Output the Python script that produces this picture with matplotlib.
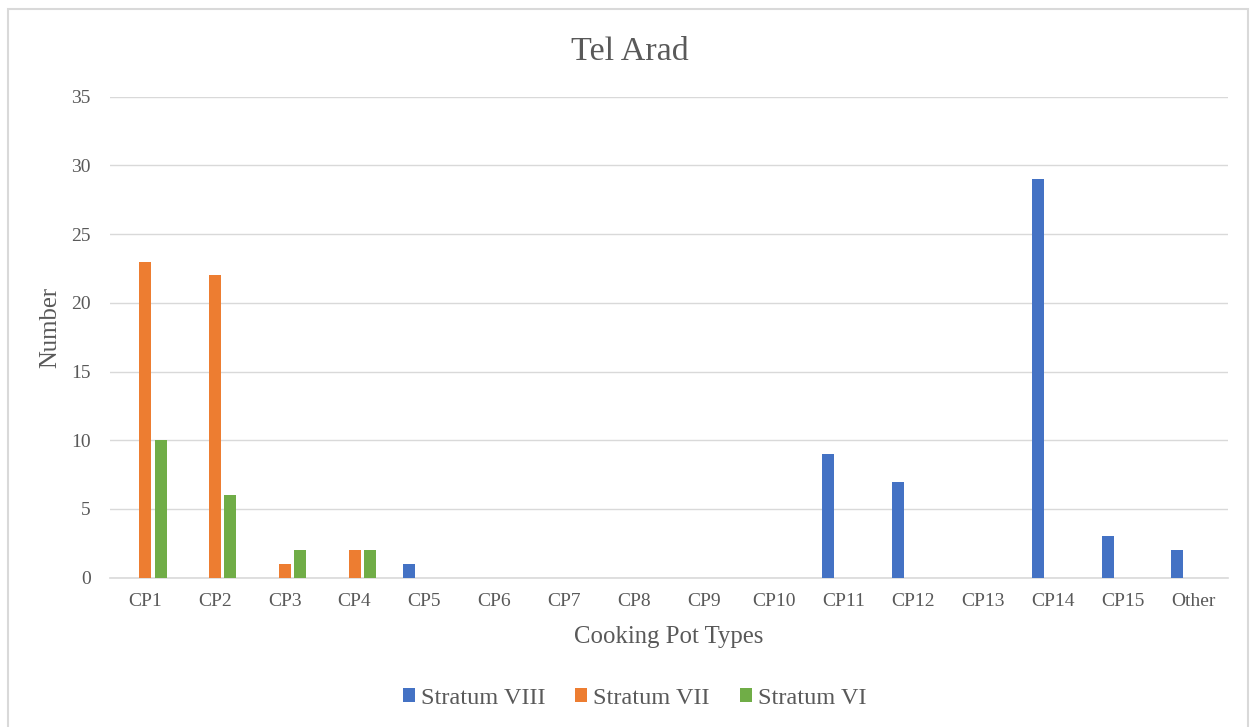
import matplotlib.pyplot as plt
import numpy as np
from matplotlib.patches import Rectangle

plt.rcParams['font.family'] = ['Liberation Serif', 'DejaVu Serif']

categories = ["CP1", "CP2", "CP3", "CP4", "CP5", "CP6", "CP7", "CP8",
              "CP9", "CP10", "CP11", "CP12", "CP13", "CP14", "CP15", "Other"]
stratum_viii = [0, 0, 0, 0, 1, 0, 0, 0, 0, 0, 9, 7, 0, 29, 3, 2]
stratum_vii = [23, 22, 1, 2, 0, 0, 0, 0, 0, 0, 0, 0, 0, 0, 0, 0]
stratum_vi = [10, 6, 2, 2, 0, 0, 0, 0, 0, 0, 0, 0, 0, 0, 0, 0]
series_names = ["Stratum VIII", "Stratum VII", "Stratum VI"]
colors = ["#4472C4", "#ED7D31", "#70AD47"]
text_color = "#595959"
grid_color = "#D9D9D9"

W, H = 1250, 727
fig = plt.figure(figsize=(W / 100, H / 100), dpi=100)

# light chart-area frame
fig.patches.append(Rectangle((8 / W, -0.05), 1240 / W, 1 - 9 / H + 0.05,
                             transform=fig.transFigure, fill=False,
                             edgecolor=grid_color, linewidth=1.5))

ax = fig.add_axes([110 / W, 1 - 577.7 / H, 1118 / W, 481 / H])

x = np.arange(len(categories))
offset = 0.224
width = 0.172
for k, vals in enumerate([stratum_viii, stratum_vii, stratum_vi]):
    ax.bar(x + (k - 1) * offset, vals, width=width, color=colors[k],
           label=series_names[k], zorder=3)

ax.set_xlim(-0.5, len(categories) - 0.5)
ax.set_ylim(0, 35)
ax.set_yticks(range(0, 36, 5))
ax.set_xticks(x)
ax.set_xticklabels(categories)
ax.tick_params(length=0, labelsize=14, colors=text_color)
ax.tick_params(axis='y', pad=14)
ax.tick_params(axis='x', pad=11)
ax.grid(axis='y', color=grid_color, linewidth=1.0, zorder=0)
# category axis line at zero
ax.axhline(0, color=grid_color, linewidth=1.2, zorder=2, clip_on=False)
for s in ax.spines.values():
    s.set_visible(False)

fig.text(630 / W, 1 - 60 / H, "Tel Arad", ha='center', va='baseline',
         fontsize=24.5, color=text_color)
fig.text(669 / W, 1 - 643 / H, "Cooking Pot Types", ha='center',
         va='baseline', fontsize=17.8, color=text_color)
fig.text(50 / W, 1 - 327 / H, "Number", ha='center', va='center',
         rotation=90, fontsize=17.8, color=text_color)

leg = fig.legend(loc='center', bbox_to_anchor=(634.5 / W, 1 - 698 / H),
                 ncol=3, frameon=False, fontsize=17.5, handlelength=0.5,
                 handleheight=0.5, handletextpad=0.25, columnspacing=1.23)
for t in leg.get_texts():
    t.set_color(text_color)

fig.savefig("out.png", dpi=100, facecolor='white')
